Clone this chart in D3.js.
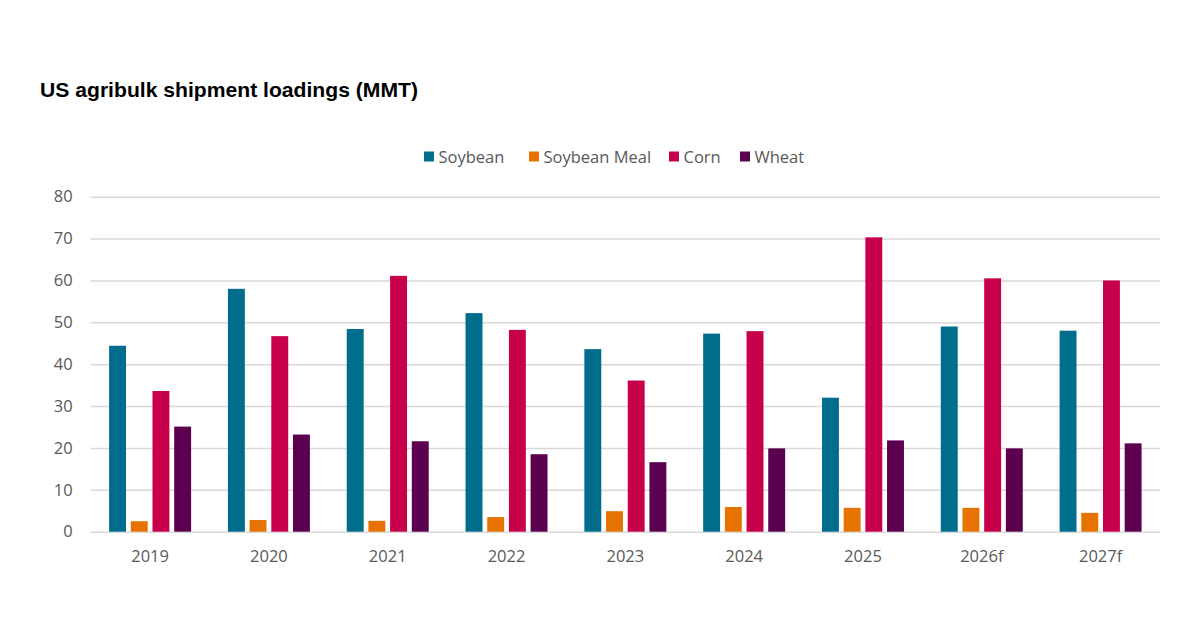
<!DOCTYPE html>
<html>
<head>
<meta charset="utf-8">
<script src="https://cdn.jsdelivr.net/npm/d3@7"></script>
<style>
  body { margin: 0; background: #fff; }
  svg { display: block; }
</style>
</head>
<body>
<div id="chart"></div>
<script>
const years = ['2019', '2020', '2021', '2022', '2023', '2024', '2025', '2026f', '2027f'];
const seriesNames = ['Soybean', 'Soybean Meal', 'Corn', 'Wheat'];
const soybean = [44.4, 58.0, 48.4, 52.2, 43.6, 47.3, 32.0, 49.0, 48.0];
const soybeanMeal = [2.5, 2.8, 2.6, 3.5, 4.9, 5.9, 5.7, 5.7, 4.5];
const corn = [33.6, 46.7, 61.1, 48.2, 36.1, 47.9, 70.3, 60.5, 60.0];
const wheat = [25.1, 23.2, 21.6, 18.5, 16.6, 19.9, 21.8, 19.9, 21.1];
const yTicks = [0, 10, 20, 30, 40, 50, 60, 70, 80];
const colors = ['#006d8c', '#e67300', '#c8004b', '#5c0050'];

var width = 1200, height = 630;
var margin = { top: 196.7, right: 40, bottom: 98.3, left: 90.7 };

var allSeries = [soybean, soybeanMeal, corn, wheat];
var rows = years.map((y, i) => ({
    year: y,
    values: seriesNames.map((s, j) => ({ key: s, value: allSeries[j][i], idx: j }))
}));

var svg = d3.select('#chart').append('svg')
    .attr('width', width)
    .attr('height', height);

// title
svg.append('text')
    .attr('x', 40)
    .attr('y', 96.5)
    .attr('font-family', 'Liberation Sans, Arial, sans-serif')
    .attr('font-weight', 'bold')
    .attr('font-size', 21)
    .attr('fill', '#000')
    .attr('textLength', 378)
    .attr('lengthAdjust', 'spacingAndGlyphs')
    .text('US agribulk shipment loadings (MMT)');

var x0 = d3.scaleBand()
    .domain(years)
    .range([margin.left, width - margin.right])
    .paddingInner(0.31)
    .paddingOuter(0.155);

var x1 = d3.scaleBand()
    .domain(seriesNames)
    .range([0, x0.bandwidth()])
    .paddingInner(0.22);

var y = d3.scaleLinear()
    .domain([0, 80])
    .range([height - margin.bottom, margin.top]);

// gridlines
var yAxis = d3.axisLeft(y)
    .tickValues(yTicks)
    .tickSize(-(width - margin.left - margin.right))
    .tickPadding(18);

var gy = svg.append('g')
    .attr('transform', `translate(${margin.left},0)`)
    .call(yAxis);
gy.select('.domain').remove();
gy.selectAll('.tick line').attr('stroke', '#d9d9d9').attr('stroke-width', 1.5);
gy.selectAll('.tick text')
    .attr('font-family', 'Open Sans, sans-serif')
    .attr('font-size', 16.5)
    .attr('fill', '#595959');

// bars
var groups = svg.append('g').selectAll('g')
    .data(rows)
    .join('g')
    .attr('transform', d => `translate(${x0(d.year)},0)`);

groups.selectAll('rect')
    .data(d => d.values)
    .join('rect')
    .attr('x', d => x1(d.key))
    .attr('y', d => y(d.value))
    .attr('width', x1.bandwidth())
    .attr('height', d => y(0) - y(d.value))
    .attr('fill', d => colors[d.idx]);

// x labels
var xAxis = d3.axisBottom(x0).tickSize(0).tickPadding(19);
var gx = svg.append('g')
    .attr('transform', `translate(0,${y(0)})`)
    .call(xAxis);
gx.select('.domain').remove();
gx.selectAll('.tick text')
    .attr('font-family', 'Open Sans, sans-serif')
    .attr('font-size', 16.5)
    .attr('fill', '#595959');

// legend
var legendX = [424, 529, 669, 740];
var legend = svg.append('g').selectAll('g')
    .data(seriesNames)
    .join('g')
    .attr('transform', (d, i) => `translate(${legendX[i]},151.5)`);

legend.append('rect')
    .attr('width', 10)
    .attr('height', 10)
    .attr('fill', (d, i) => colors[i]);

legend.append('text')
    .attr('x', 14.5)
    .attr('y', 11)
    .attr('font-family', 'Open Sans, sans-serif')
    .attr('font-size', 16.5)
    .attr('fill', '#595959')
    .text(d => d);
</script>
</body>
</html>
